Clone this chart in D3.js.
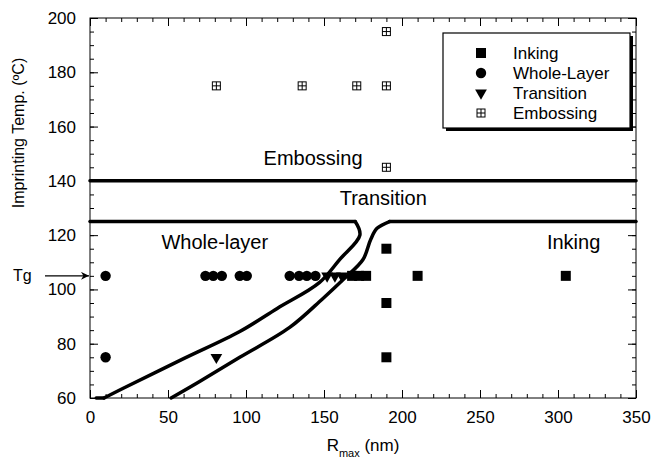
<!DOCTYPE html>
<html>
<head>
<meta charset="utf-8">
<script src="https://cdn.jsdelivr.net/npm/d3@7"></script>
<style>
  body { margin: 0; background: #fff; }
  svg { font-family: "Liberation Sans", Arial, sans-serif; }
</style>
</head>
<body>
<svg></svg>
<script>
'use strict';
// data: [R_max (nm), imprinting temp (C)]
var inking = [[190, 115], [168, 105], [172.5, 105], [177, 105], [210, 105], [305, 105], [190, 95], [190, 75]];
var wholeLayer = [[10, 105], [74, 105], [79, 105], [84.5, 105], [96, 105], [100.5, 105],
    [128, 105], [134, 105], [139, 105], [144.5, 105], [10, 75]];
var transition = [[152, 105], [157, 105], [161.5, 105], [81, 75]];
var embossing = [[81, 175], [136, 175], [171, 175], [190, 175], [190, 195], [190, 145]];

// regime boundaries (straight parts and curved parts)
var embossLine = [[0, 140], [350, 140]];
var wholeLayerTop = [[0, 125], [170, 125]];
var wholeLayerCurve = [[170, 125], [173, 120], [160, 111], [147, 102.5], [120, 93], [96, 84.5], [60, 74.5], [21, 63.5], [9, 60]];
var inkingTop = [[350, 125], [192, 125]];
var inkingCurve = [[192, 125], [184, 122.5], [180, 118.5], [175, 111], [163, 104], [149, 96.5], [128, 86], [96, 75], [70, 66], [52, 60]];
var bottomStub = [[4, 60], [9, 60]];

var regionLabels = [
    {text: 'Embossing', x: 143, y: 146},
    {text: 'Transition', x: 188, y: 131},
    {text: 'Whole-layer', x: 80, y: 115},
    {text: 'Inking', x: 310, y: 115}
];
var legendItems = ['Inking', 'Whole-Layer', 'Transition', 'Embossing'];

var canvasWidth = 653;
var canvasHeight = 460;
var margin = {top: 18, right: 17, bottom: 62, left: 90};
var width = canvasWidth - margin.left - margin.right;
var height = canvasHeight - margin.top - margin.bottom;

var svg = d3.select('svg')
    .attr('width', canvasWidth)
    .attr('height', canvasHeight);

var g = svg.append('g')
    .attr('transform', 'translate(' + margin.left + ',' + margin.top + ')');

var xScale = d3.scaleLinear().domain([0, 350]).range([0, width]);
var yScale = d3.scaleLinear().domain([60, 200]).range([height, 0]);

// frame
g.append('rect')
    .attr('width', width).attr('height', height)
    .attr('fill', 'none').attr('stroke', '#000').attr('stroke-width', 1);

// axes with inward ticks on all four sides
function styleAxis(sel) {
    sel.select('.domain').remove();
    sel.selectAll('line').attr('stroke', '#000');
    sel.selectAll('text').attr('font-size', '17px').attr('fill', '#000')
        .attr('font-family', '"Liberation Sans", Arial, sans-serif');
}
var xMinor = d3.range(0, 351, 10);
var yMinor = d3.range(60, 201, 5);

g.append('g').attr('transform', 'translate(0,' + height + ')')
    .call(d3.axisBottom(xScale).tickValues(xMinor).tickSize(-4).tickFormat(''))
    .call(styleAxis);
g.append('g').attr('transform', 'translate(0,' + height + ')')
    .call(d3.axisBottom(xScale).tickValues(d3.range(0, 351, 50)).tickSize(-8).tickPadding(13))
    .call(styleAxis);
g.append('g')
    .call(d3.axisTop(xScale).tickValues(xMinor).tickSize(-4).tickFormat(''))
    .call(styleAxis);
g.append('g')
    .call(d3.axisTop(xScale).tickValues(d3.range(0, 351, 50)).tickSize(-8).tickFormat(''))
    .call(styleAxis);

g.append('g')
    .call(d3.axisLeft(yScale).tickValues(yMinor).tickSize(-4).tickFormat(''))
    .call(styleAxis);
g.append('g')
    .call(d3.axisLeft(yScale).tickValues(d3.range(60, 201, 20)).tickSize(-8).tickPadding(14))
    .call(styleAxis);
g.append('g').attr('transform', 'translate(' + width + ',0)')
    .call(d3.axisRight(yScale).tickValues(yMinor).tickSize(-4).tickFormat(''))
    .call(styleAxis);
g.append('g').attr('transform', 'translate(' + width + ',0)')
    .call(d3.axisRight(yScale).tickValues(d3.range(60, 201, 20)).tickSize(-8).tickFormat(''))
    .call(styleAxis);

// boundary lines
var line = d3.line()
    .x(function(d) { return xScale(d[0]); })
    .y(function(d) { return yScale(d[1]); });
var curve = d3.line()
    .curve(d3.curveCatmullRom.alpha(0.5))
    .x(function(d) { return xScale(d[0]); })
    .y(function(d) { return yScale(d[1]); });

[embossLine, wholeLayerTop, inkingTop, bottomStub].forEach(function(pts) {
    g.append('path')
        .attr('d', line(pts))
        .attr('fill', 'none')
        .attr('stroke', '#000')
        .attr('stroke-width', 3.5)
        .attr('stroke-linecap', 'round');
});
[wholeLayerCurve, inkingCurve].forEach(function(pts) {
    g.append('path')
        .attr('d', curve(pts))
        .attr('fill', 'none')
        .attr('stroke', '#000')
        .attr('stroke-width', 3.5)
        .attr('stroke-linecap', 'round')
        .attr('stroke-linejoin', 'round');
});

// region names
g.selectAll('.region')
    .data(regionLabels)
    .enter()
    .append('text')
    .attr('class', 'region')
    .attr('x', function(d) { return xScale(d.x); })
    .attr('y', function(d) { return yScale(d.y); })
    .attr('text-anchor', 'middle')
    .attr('font-size', '20px')
    .text(function(d) { return d.text; });

// markers
var sym = {
    square: d3.symbol().type(d3.symbolSquare).size(100),
    circle: d3.symbol().type(d3.symbolCircle).size(85),
    tri: d3.symbol().type(d3.symbolTriangle).size(60)
};

function drawEmboss(sel) {
    sel.append('rect')
        .attr('x', -4).attr('y', -4).attr('width', 8).attr('height', 8)
        .attr('fill', '#fff').attr('stroke', '#000').attr('stroke-width', 1);
    sel.append('path')
        .attr('d', 'M-4,0H4M0,-4V4')
        .attr('stroke', '#000').attr('stroke-width', 1);
}

g.selectAll('.ink')
    .data(inking).enter().append('path')
    .attr('class', 'ink')
    .attr('transform', function(d) { return 'translate(' + xScale(d[0]) + ',' + yScale(d[1]) + ')'; })
    .attr('d', sym.square());

g.selectAll('.whole')
    .data(wholeLayer).enter().append('path')
    .attr('class', 'whole')
    .attr('transform', function(d) { return 'translate(' + xScale(d[0]) + ',' + yScale(d[1]) + ')'; })
    .attr('d', sym.circle());

g.selectAll('.trans')
    .data(transition).enter().append('path')
    .attr('class', 'trans')
    .attr('transform', function(d) { return 'translate(' + xScale(d[0]) + ',' + yScale(d[1]) + ') rotate(180)'; })
    .attr('d', sym.tri());

g.selectAll('.emb')
    .data(embossing).enter().append('g')
    .attr('class', 'emb')
    .attr('transform', function(d) { return 'translate(' + xScale(d[0]) + ',' + yScale(d[1]) + ')'; })
    .each(function() { drawEmboss(d3.select(this)); });

// legend
var legend = svg.append('g').attr('transform', 'translate(443,33)');
legend.append('rect')
    .attr('x', 3).attr('y', 3).attr('width', 187).attr('height', 95)
    .attr('fill', '#000');
legend.append('rect')
    .attr('width', 187).attr('height', 95)
    .attr('fill', '#fff').attr('stroke', '#000').attr('stroke-width', 1.2);

var rows = legend.selectAll('.row')
    .data(legendItems).enter().append('g')
    .attr('class', 'row')
    .attr('transform', function(d, i) { return 'translate(0,' + (20 + i * 20) + ')'; });
rows.append('text')
    .attr('x', 70).attr('y', 6)
    .attr('font-size', '17px')
    .text(function(d) { return d; });
rows.each(function(d, i) {
    var r = d3.select(this).append('g').attr('transform', 'translate(38,0)');
    if (i === 0) r.append('path').attr('d', sym.square());
    if (i === 1) r.append('path').attr('d', sym.circle());
    if (i === 2) r.append('path').attr('d', sym.tri()).attr('transform', 'rotate(180)');
    if (i === 3) drawEmboss(r);
});

// axis titles
svg.append('text')
    .attr('transform', 'translate(24,' + (margin.top + height / 2 - 75) + ') rotate(-90)')
    .attr('text-anchor', 'middle')
    .attr('font-size', '16px')
    .text('Imprinting Temp. (\u00BAC)');

var xt = svg.append('text')
    .attr('x', margin.left + width / 2)
    .attr('y', 451)
    .attr('text-anchor', 'middle')
    .attr('font-size', '17px');
xt.append('tspan').text('R');
xt.append('tspan').attr('font-size', '11px').attr('dy', 6).text('max');
xt.append('tspan').attr('dy', -6).text(' (nm)');

// Tg marker
svg.append('defs').append('marker')
    .attr('id', 'arrow')
    .attr('viewBox', '0 0 10 10')
    .attr('refX', 10).attr('refY', 5)
    .attr('markerWidth', 8).attr('markerHeight', 8)
    .attr('markerUnits', 'userSpaceOnUse')
    .attr('orient', 'auto')
    .append('path').attr('d', 'M0,0L10,5L0,10L3,5Z').attr('fill', '#000');
var tgY = margin.top + yScale(105);
svg.append('line')
    .attr('x1', 45).attr('x2', margin.left - 1)
    .attr('y1', tgY).attr('y2', tgY)
    .attr('stroke', '#000').attr('stroke-width', 1.2)
    .attr('marker-end', 'url(#arrow)');
svg.append('text')
    .attr('x', 13).attr('y', tgY + 5)
    .attr('font-size', '16px')
    .text('Tg');
</script>
</body>
</html>
